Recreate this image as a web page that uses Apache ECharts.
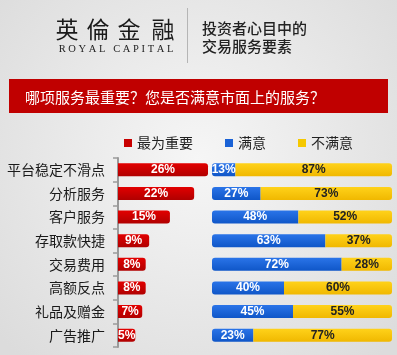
<!DOCTYPE html>
<html><head><meta charset="utf-8">
<script src="https://cdn.jsdelivr.net/npm/echarts@6/dist/echarts.min.js"></script>
<style>html,body{margin:0;padding:0;background:#ebebeb;}#c{width:397px;height:355px;}</style>
</head><body><div id="c"></div>
<script>
const categories = ['平台稳定不滑点','分析服务','客户服务','存取款快捷','交易费用','高额反点','礼品及赠金','广告推广'];
const importance = [26,22,15,9,8,8,7,5];
const satisfied = [13,27,48,63,72,40,45,23];
const unsatisfied = [87,73,52,37,28,60,55,77];
const seriesNames = ['最为重要','满意','不满意'];
const brandChars = ['英','倫','金','融'];
const brandEn = 'R O Y A L   C A P I T A L';
const headline = ['投资者心目中的','交易服务要素'];
const bannerText = '哪项服务最重要？您是否满意市面上的服务？';

const CJK = '"Noto Sans CJK SC", "Noto Sans", sans-serif';
const LAT = '"Liberation Sans", Arial, sans-serif';
const chart = echarts.init(document.getElementById('c'));

const legendColors = ['#c80000', '#1a62d6', '#f5c800'];
const brandX = [67, 98, 129, 163];
const graphics = [];
brandChars.forEach((ch, i) => graphics.push({
  type: 'text',
  style: { text: ch, x: brandX[i], y: 29, textAlign: 'center', textVerticalAlign: 'middle',
    font: '400 23px ' + CJK, fill: '#1a1a1a' }
}));
graphics.push({ type: 'text', style: { text: brandEn, x: 116, y: 49, textAlign: 'center', textVerticalAlign: 'middle',
  font: '10.5px "Liberation Serif", "DejaVu Serif", serif', fill: '#222' } });
graphics.push({ type: 'line', shape: { x1: 187.5, y1: 8, x2: 187.5, y2: 63 }, style: { stroke: '#b5b5b5', lineWidth: 1 } });
graphics.push({ type: 'text', style: { text: headline[0], x: 202, y: 28, textVerticalAlign: 'middle',
  font: '500 15px ' + CJK, fill: '#222' } });
graphics.push({ type: 'text', style: { text: headline[1], x: 202, y: 46, textVerticalAlign: 'middle',
  font: '500 15px ' + CJK, fill: '#222' } });
graphics.push({ type: 'rect', shape: { x: 9, y: 79, width: 379, height: 34 }, style: { fill: '#c00000' } });
graphics.push({ type: 'text', style: { text: bannerText, x: 25, y: 97, textVerticalAlign: 'middle',
  font: '15px ' + CJK, fill: '#ffffff' } });

const grad = (a, b) => new echarts.graphic.LinearGradient(0, 0, 0, 1, [{offset: 0, color: a}, {offset: 1, color: b}]);

chart.setOption({
  backgroundColor: new echarts.graphic.RadialGradient(0.5, 0.45, 0.75, [{offset: 0, color: '#f6f6f6'}, {offset: 1, color: '#dcdcdc'}]),
  animation: false,
  graphic: graphics,
  legend: {
    data: seriesNames.map((n, i) => ({ name: n, itemStyle: { color: legendColors[i] } })),
    left: 119, top: 131, itemWidth: 8, itemHeight: 8, itemGap: 32, icon: 'rect',
    textStyle: { fontSize: 14, color: '#222', fontFamily: CJK }
  },
  grid: [
    { left: 118, top: 158, width: 90, height: 189 },
    { left: 212, top: 158, width: 180, height: 189 }
  ],
  xAxis: [
    { gridIndex: 0, type: 'value', min: 0, max: 26, show: false },
    { gridIndex: 1, type: 'value', min: 0, max: 100, show: false }
  ],
  yAxis: [
    { gridIndex: 0, type: 'category', data: categories, inverse: true,
      axisLine: { show: true, lineStyle: { color: '#9a9a9a', width: 2 } },
      axisTick: { show: true, length: 5, lineStyle: { color: '#9a9a9a', width: 1.5 } },
      axisLabel: { fontSize: 14, color: '#1a1a1a', margin: 13, fontFamily: CJK } },
    { gridIndex: 1, type: 'category', data: categories, inverse: true, show: false }
  ],
  series: [
    { name: seriesNames[0], type: 'bar', xAxisIndex: 0, yAxisIndex: 0, data: importance, barWidth: 13,
      itemStyle: { color: grad('#e20000', '#b00000'), borderRadius: [0, 3, 3, 0] },
      label: { show: true, position: 'inside', formatter: '{c}%', color: '#fff', fontWeight: 'bold', fontSize: 12, fontFamily: LAT } },
    { name: seriesNames[1], type: 'bar', stack: 'sat', xAxisIndex: 1, yAxisIndex: 1, data: satisfied, barWidth: 13,
      itemStyle: { color: grad('#2a74e8', '#0f56c8'), borderRadius: [3, 0, 0, 3] },
      label: { show: true, position: 'inside', formatter: '{c}%', color: '#fff', fontWeight: 'bold', fontSize: 12, fontFamily: LAT } },
    { name: seriesNames[2], type: 'bar', stack: 'sat', xAxisIndex: 1, yAxisIndex: 1, data: unsatisfied, barWidth: 13,
      itemStyle: { color: grad('#ffd21a', '#f0b800'), borderRadius: [0, 3, 3, 0] },
      label: { show: true, position: 'inside', formatter: '{c}%', color: '#222', fontWeight: 'bold', fontSize: 12, fontFamily: LAT } }
  ],
  color: legendColors
});
</script>
</body></html>
